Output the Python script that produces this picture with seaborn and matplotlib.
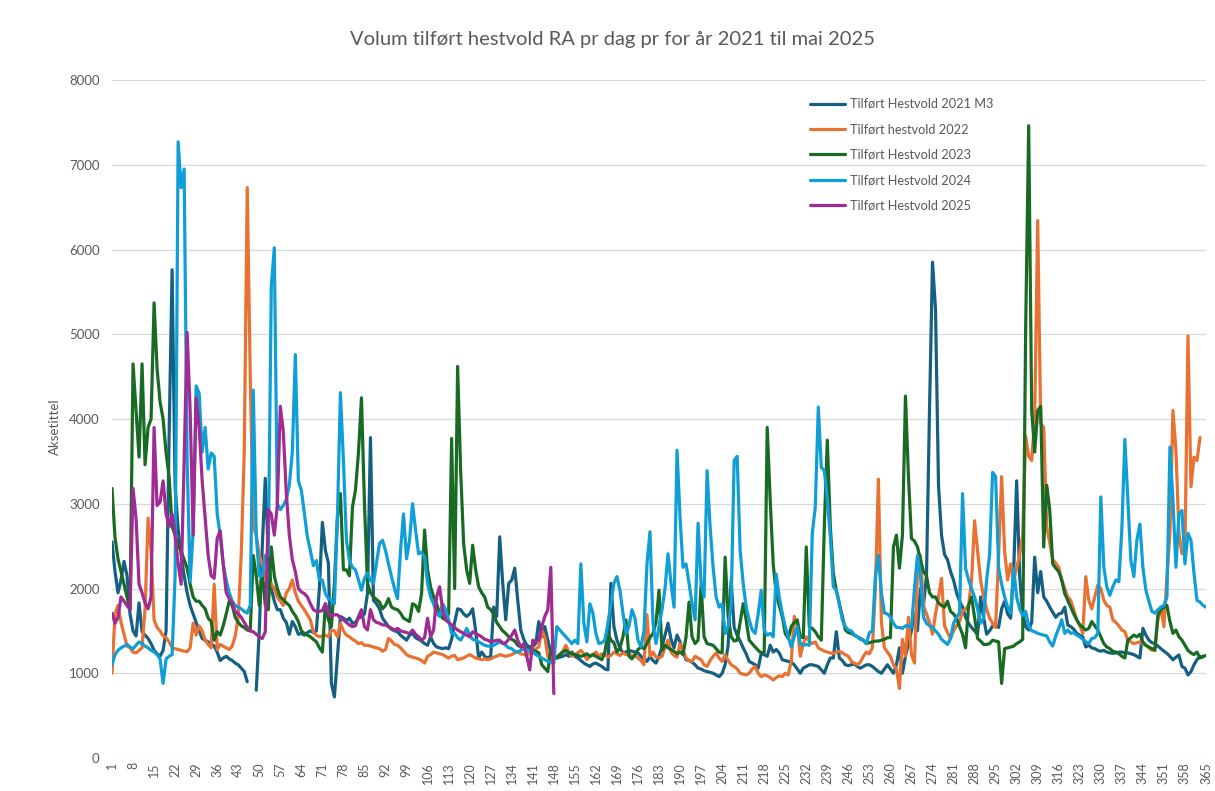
import numpy as np
import pandas as pd
import matplotlib
matplotlib.use("Agg")
import matplotlib.pyplot as plt
import seaborn as sns
from matplotlib.lines import Line2D

nan = np.nan

# daily volumes (m3), one row per week
vol_2021 = [
    2550, 2200, 1950, 2100, 2320, 2150, 1700,
    1500, 1440, 1830, 1490, 1450, 1410, 1350,
    1270, 1230, 1200, 1270, 1500, 3800, 5760,
    3200, 2700, 2400, 2150, 1950, 1800, 1700,
    1600, 1500, 1410, 1390, 1370, 1350, 1320,
    1250, 1150, 1180, 1200, 1170, 1150, 1120,
    1100, 1060, 1020, 900, nan, nan, 800,
    1500, 2500, 3300, 2400, 2000, 1850, 1750,
    1750, 1650, 1600, 1460, 1610, 1550, 1460,
    1470, 1450, 1480, 1500, 1480, 1500, 2000,
    2780, 2450, 2300, 880, 720, 1200, 1670,
    1650, 1620, 1650, 1590, 1600, 1650, 1670,
    1700, 1940, 3780, 1860, 1820, 1760, 1650,
    1600, 1550, 1520, 1500, 1490, 1450, 1420,
    1390, 1450, 1470, 1420, 1400, 1380, 1350,
    1330, 1430, 1350, 1310, 1300, 1290, 1300,
    1290, 1400, 1600, 1760, 1750, 1700, 1670,
    1700, 1760, 1500, 1180, 1250, 1200, 1180,
    1200, 1780, 1670, 2610, 2060, 1630, 2060,
    2100, 2240, 1860, 1510, 1400, 1330, 1310,
    1320, 1350, 1610, 1430, 1550, 1390, 1250,
    1200, 1180, 1190, 1200, 1220, 1200, 1250,
    1200, 1180, 1150, 1120, 1100, 1080, 1110,
    1120, 1100, 1080, 1050, 1040, 2060, 1550,
    1390, 1300, 1240, 1250, 1270, 1260, 1250,
    1240, 1200, 1170, 1140, 1200, 1150, 1120,
    1200, 1310, 1450, 1590, 1400, 1300, 1450,
    1370, 1250, 1160, 1150, 1130, 1100, 1060,
    1050, 1030, 1020, 1010, 1000, 980, 960,
    1000, 1100, 1330, 2100, 1540, 1450, 1380,
    1300, 1230, 1140, 1120, 1100, 1060, 1230,
    1220, 1200, 1330, 1250, 1280, 1240, 1160,
    1150, 1140, 1130, 1100, 1050, 1000, 1060,
    1080, 1100, 1100, 1090, 1080, 1040, 1000,
    1100, 1180, 1180, 1490, 1180, 1150, 1100,
    1090, 1100, 1110, 1080, 1060, 1080, 1100,
    1100, 1080, 1050, 1020, 1000, 1050, 1100,
    1050, 1000, 1100, 1300, 1000, 1200, 1350,
    1500, 1700, 1500, 2000, 1800, 2150, 4100,
    5850, 5300, 3220, 2630, 2400, 2340, 2200,
    2100, 1950, 1850, 1780, 1660, 1590, 1540,
    1500, 1460, 1900, 1660, 1460, 1500, 1560,
    1560, 1540, 1760, 1850, 1700, 1650, 2200,
    3270, 2150, 1700, 1550, 1510, 1600, 2370,
    1950, 2200, 1900, 1850, 1780, 1720, 1660,
    1700, 1710, 1780, 1570, 1550, 1520, 1470,
    1450, 1430, 1310, 1330, 1300, 1290, 1270,
    1260, 1270, 1250, 1240, 1235, 1240, 1250,
    1250, 1240, 1240, 1230, 1220, 1200, 1180,
    1530, 1450, 1390, 1360, 1350, 1320, 1290,
    1260, 1235, 1200, 1160, 1190, 1215, 1080,
    1060, 980, 1020, 1100, 1160, 1200, 1190,
    nan,
]

vol_2022 = [
    1000, 1700, 1800, 1600, 1460, 1320, 1300,
    1250, 1240, 1270, 1300, 1760, 2830, 2440,
    1630, 1540, 1500, 1440, 1420, 1370, 1300,
    1290, 1280, 1270, 1260, 1255, 1300, 1590,
    1450, 1560, 1500, 1390, 1340, 1300, 2050,
    1280, 1340, 1320, 1300, 1280, 1320, 1440,
    1660, 2400, 3600, 6730, 4500, 2730, 2630,
    2390, 2290, 2150, 2100, 2050, 2000, 1900,
    1850, 1800, 1950, 2000, 2100, 1950, 1850,
    1800, 1750, 1690, 1630, 1490, 1450, 1430,
    1440, 1450, 1430, 1510, 1500, 1430, 1590,
    1500, 1450, 1430, 1400, 1380, 1350, 1360,
    1330, 1330, 1320, 1310, 1300, 1290, 1260,
    1280, 1410, 1380, 1340, 1330, 1300, 1260,
    1220, 1200, 1190, 1180, 1170, 1150, 1120,
    1200, 1220, 1250, 1240, 1230, 1220, 1200,
    1180, 1200, 1210, 1160, 1170, 1180, 1200,
    1220, 1200, 1180, 1170, 1160, 1170, 1160,
    1170, 1190, 1200, 1220, 1210, 1200, 1210,
    1220, 1240, 1250, 1230, 1220, 1210, 1250,
    1270, 1290, 1310, 1510, 1430, 1200, 1160,
    1170, 1200, 1220, 1260, 1330, 1250, 1200,
    1220, 1240, 1270, 1230, 1160, 1200, 1220,
    1250, 1200, 1230, 1220, 1190, 1210, 1250,
    1230, 1210, 1240, 1220, 1230, 1200, 1210,
    1180, 1150, 1100, 1690, 1200, 1250, 1190,
    1180, 1200, 1300, 1390, 1250, 1210, 1190,
    1350, 1270, 1180, 1150, 1140, 1200, 1180,
    1160, 1100, 1080, 1150, 1200, 1240, 1180,
    1140, 1220, 1150, 1100, 1080, 1050, 1000,
    990, 980, 1000, 1050, 1080, 1000, 960,
    980, 970, 950, 920, 950, 970, 960,
    1000, 980, 1140, 1670, 1570, 1200, 1350,
    1430, 1380, 1350, 1370, 1300, 1280, 1260,
    1250, 1240, 1230, 1250, 1260, 1240, 1220,
    1200, 1140, 1120, 1100, 1130, 1200, 1250,
    1230, 1300, 2000, 3290, 1600, 1300, 1250,
    1200, 1100, 1050, 820, 1400, 1200, 1660,
    1220, 1120, 2200, 2390, 1800, 1700, 1600,
    1460, 1700, 1900, 2120, 1560, 1480, 1410,
    1500, 1560, 1610, 1730, 1760, 1800, 2100,
    2800, 2440, 2100, 1900, 1760, 1650, 1590,
    1540, 2400, 3320, 2440, 2100, 2290, 2100,
    2240, 2400, 2630, 3800, 3560, 3510, 4000,
    6340, 3950, 3900, 2730, 2540, 2340, 2300,
    2250, 2100, 2000, 1900, 1860, 1750, 1630,
    1570, 1470, 2140, 1860, 1760, 1900, 2040,
    2000, 1860, 1800, 1780, 1630, 1600, 1560,
    1510, 1490, 1390, 1370, 1350, 1360, 1370,
    1350, 1330, 1300, 1270, 1300, 1630, 1780,
    1550, 2140, 2650, 4100, 3630, 2650, 2410,
    2450, 4980, 3200, 3550, 3510, 3780, nan,
    nan,
]

vol_2023 = [
    3180, 2600, 2350, 2200, 2050, 1900, 1760,
    4650, 4100, 3550, 4650, 3460, 3900, 4000,
    5370, 4590, 4200, 4000, 3600, 3320, 2730,
    2630, 2500, 2440, 2340, 2240, 2050, 1900,
    1850, 1850, 1800, 1760, 1650, 1610, 1390,
    1490, 1450, 1560, 1700, 1850, 1800, 1660,
    1600, 1560, 1540, 1510, 1500, 2390, 2150,
    1800, 2200, 1800, 1750, 2490, 2150, 2000,
    1900, 1870, 1830, 1800, 1730, 1680, 1610,
    1500, 1470, 1450, 1430, 1400, 1370, 1300,
    1250, 1820, 1630, 1550, 2060, 2840, 3120,
    2220, 2220, 2150, 2960, 3160, 3600, 4250,
    3000, 2060, 1950, 1900, 1870, 1840, 1760,
    1800, 1880, 1780, 1760, 1750, 1710, 1650,
    1630, 1610, 1820, 1800, 1730, 1940, 2690,
    2220, 2020, 1900, 1820, 1710, 1650, 1630,
    1700, 3770, 2000, 4620, 3390, 2530, 2220,
    2060, 2510, 2220, 2020, 1950, 1900, 1780,
    1750, 1700, 1600, 1550, 1500, 1470, 1430,
    1400, 1380, 1330, 1310, 1300, 1290, 1280,
    1270, 1260, 1240, 1100, 1060, 1020, 1270,
    1200, 1180, 1220, 1250, 1270, 1240, 1230,
    1220, 1210, 1200, 1210, 1230, 1200, 1220,
    1200, 1180, 1160, 1250, 1470, 1390, 1360,
    1250, 1300, 1430, 1630, 1200, 1170, 1220,
    1280, 1310, 1290, 1350, 1420, 1470, 1600,
    1980, 1270, 1330, 1300, 1280, 1260, 1230,
    1250, 1220, 1430, 1840, 1430, 1350, 1390,
    2040, 1430, 1350, 1340, 1330, 1290, 1250,
    1240, 2370, 1670, 1430, 1380, 1390, 1600,
    1820, 1630, 1390, 1350, 1310, 1270, 1240,
    1250, 3900, 3040, 2290, 1940, 1800, 1670,
    1470, 1410, 1550, 1600, 1630, 1430, 1420,
    2490, 1550, 1530, 1490, 1430, 1390, 2730,
    3750, 2730, 2180, 1980, 1820, 1670, 1510,
    1480, 1470, 1450, 1430, 1410, 1390, 1350,
    1360, 1370, 1380, 1380, 1390, 1400, 1420,
    1420, 2490, 2630, 2240, 2630, 4270, 3320,
    2590, 2560, 2490, 2340, 2200, 2150, 1950,
    1900, 1900, 1830, 1800, 1780, 1850, 1730,
    1700, 1650, 1550, 1460, 1300, 1800, 1900,
    1660, 1410, 1380, 1340, 1340, 1350, 1390,
    1380, 1370, 880, 1290, 1300, 1310, 1320,
    1350, 1370, 1400, 5070, 7460, 4100, 3610,
    4100, 4150, 2490, 3220, 2930, 2290, 2240,
    2200, 2100, 1940, 1860, 1780, 1700, 1630,
    1570, 1540, 1510, 1530, 1610, 1560, 1510,
    1430, 1350, 1310, 1290, 1260, 1250, 1230,
    1200, 1180, 1390, 1420, 1450, 1430, 1460,
    1370, 1330, 1310, 1290, 1270, 1690, 1750,
    1780, 1800, 1610, 1470, 1510, 1430, 1390,
    1330, 1270, 1240, 1220, 1250, 1180, 1200,
    1210,
]

vol_2024 = [
    1100, 1220, 1270, 1300, 1320, 1340, 1310,
    1290, 1330, 1370, 1350, 1320, 1300, 1270,
    1250, 1220, 1170, 880, 1170, 1200, 1220,
    2150, 7270, 6730, 6950, 3500, 2080, 2680,
    4390, 4300, 3610, 3900, 3410, 3600, 3560,
    2880, 2630, 2290, 2100, 1950, 1850, 1800,
    1780, 1760, 1730, 1710, 1800, 4340, 2630,
    2150, 2150, 2390, 2390, 5560, 6020, 3000,
    2930, 2980, 3050, 3220, 3610, 4760, 3270,
    3160, 2880, 2610, 2450, 2270, 2330, 2100,
    2100, 1940, 1880, 1860, 1820, 2840, 4310,
    3510, 2570, 2330, 2250, 2220, 2100, 1980,
    2120, 2180, 2100, 2060, 2300, 2530, 2570,
    2450, 2290, 2140, 2000, 1880, 2450, 2880,
    2350, 2570, 3000, 2690, 2410, 2430, 2370,
    2060, 1900, 1820, 1710, 1670, 1820, 1750,
    1630, 1470, 1470, 1420, 1390, 1450, 1530,
    1450, 1400, 1390, 1370, 1350, 1330, 1320,
    1320, 1330, 1350, 1370, 1360, 1330, 1300,
    1290, 1260, 1250, 1270, 1290, 1280, 1260,
    1250, 1220, 1200, 1180, 1160, 1140, 1130,
    1120, 1550, 1510, 1470, 1430, 1390, 1350,
    1390, 1350, 2290, 1590, 1370, 1820, 1710,
    1470, 1350, 1360, 1390, 1590, 1820, 2060,
    2140, 1980, 1710, 1470, 1550, 1750, 1650,
    1390, 1310, 1500, 2290, 2670, 1590, 1350,
    1550, 1750, 2000, 2410, 2060, 1780, 3630,
    2840, 2250, 2290, 2060, 1820, 1630, 2770,
    2060, 1900, 3390, 2730, 2250, 1900, 1780,
    1820, 1470, 1550, 1800, 3510, 3560, 2450,
    2060, 1780, 1630, 1510, 1470, 1700, 1980,
    1510, 1450, 1470, 1430, 2170, 1900, 1710,
    1550, 1430, 1310, 1430, 1550, 1350, 1330,
    1340, 1330, 2650, 2960, 4140, 3430, 3390,
    3060, 2610, 2020, 1980, 1820, 1630, 1550,
    1510, 1500, 1450, 1430, 1400, 1390, 1350,
    1480, 1500, 2150, 2390, 1950, 1710, 1700,
    1660, 1590, 1540, 1540, 1530, 1560, 1560,
    1540, 2000, 2390, 2150, 1660, 1590, 1560,
    1540, 1500, 1460, 1400, 1370, 1340, 1410,
    1590, 1660, 1710, 3120, 2240, 2100, 2000,
    1900, 1760, 1590, 1650, 2100, 2400, 3370,
    3320, 2240, 2050, 1900, 1780, 1710, 2240,
    1900, 1760, 1680, 1730, 1560, 1500, 1490,
    1470, 1460, 1450, 1440, 1370, 1320, 1440,
    1530, 1630, 1470, 1510, 1470, 1480, 1450,
    1430, 1400, 1370, 1350, 1410, 1420, 1470,
    3080, 2250, 2020, 1920, 2020, 2100, 2080,
    2700, 3760, 3040, 2330, 2140, 2570, 2760,
    2250, 1980, 1850, 1730, 1710, 1750, 1780,
    1800, 1900, 3670, 3040, 2250, 2880, 2920,
    2290, 2650, 2570, 2180, 1860, 1840, 1800,
    1780,
]

vol_2025 = [
    1710, 1590, 1660, 1900, 1850, 1800, 1750,
    3180, 2830, 2050, 1950, 1830, 1760, 1900,
    3900, 2980, 3020, 3270, 2880, 2730, 2880,
    2630, 2300, 2050, 3500, 5020, 4100, 2630,
    4250, 3900, 3270, 2830, 2390, 2150, 2120,
    2590, 2680, 2290, 1950, 1880, 1830, 1730,
    1700, 1660, 1600, 1540, 1500, 1490, 1460,
    1430, 1410, 1490, 2930, 2880, 2630, 2980,
    4150, 3850, 3120, 2630, 2340, 2200, 2000,
    1960, 1940, 1900, 1820, 1750, 1730, 1730,
    1740, 1820, 1710, 1670, 1690, 1690, 1650,
    1630, 1600, 1570, 1550, 1560, 1670, 1750,
    1550, 1510, 1750, 1630, 1600, 1590, 1570,
    1570, 1550, 1530, 1510, 1530, 1500, 1490,
    1480, 1470, 1510, 1460, 1430, 1390, 1420,
    1650, 1430, 1510, 1900, 2020, 1750, 1630,
    1600, 1570, 1540, 1510, 1490, 1470, 1450,
    1430, 1490, 1470, 1450, 1430, 1400, 1390,
    1370, 1380, 1390, 1390, 1350, 1360, 1400,
    1450, 1510, 1390, 1310, 1350, 1200, 1040,
    1390, 1370, 1390, 1550, 1670, 1750, 2250,
    760,
]

series_names = [
    "Tilført Hestvold 2021 M3",
    "Tilført hestvold 2022",
    "Tilført Hestvold 2023",
    "Tilført Hestvold 2024",
    "Tilført Hestvold 2025",
]
series_values = [vol_2021, vol_2022, vol_2023, vol_2024, vol_2025]
colours = ["#156082", "#E97132", "#196B24", "#0F9ED5", "#A02B93"]

x_ticks = list(range(1, 366, 7))
y_ticks = list(range(0, 8001, 1000))

# long table, with a segment id so gaps in the data stay gaps
frames = []
seg = 0
for name, vals in zip(series_names, series_values):
    v = pd.Series(vals, dtype=float)
    seg_id = v.isna().cumsum() + seg
    seg = int(seg_id.max()) + 1
    frames.append(pd.DataFrame({"day": np.arange(1, len(v) + 1), "value": v,
                                "series": name, "seg": seg_id}))
df = pd.concat(frames).dropna()

sns.set_theme(style="white")
plt.rcParams["font.family"] = ["Lato", "DejaVu Sans"]
grey = "#595959"

fig = plt.figure(figsize=(12.15, 7.91), dpi=100)
ax = fig.add_axes([112 / 1215, 1 - 758 / 791, (1206 - 112) / 1215, (758 - 80) / 791])

sns.lineplot(data=df, x="day", y="value", hue="series", units="seg", estimator=None,
             palette=dict(zip(series_names, colours)), hue_order=series_names,
             linewidth=2.3, legend=False, ax=ax)
for ln in ax.get_lines():
    ln.set_solid_joinstyle("round")

ax.set_xlim(1, 365)
ax.set_ylim(0, 8000)
ax.set_xticks(x_ticks)
ax.set_xticklabels([str(t) for t in x_ticks], rotation=90, fontsize=9, color=grey)
ax.set_yticks(y_ticks)
ax.set_yticklabels([str(t) for t in y_ticks], fontsize=9.5, color=grey)
ax.tick_params(axis="x", length=0, pad=3)
ax.tick_params(axis="y", length=0, pad=9)
ax.grid(axis="y", color="#D9D9D9", linewidth=0.9)
ax.grid(axis="x", visible=False)
for s in ax.spines.values():
    s.set_visible(False)
ax.set_axisbelow(True)

ax.set_xlabel("")
ax.set_ylabel("Aksetittel", fontsize=9.5, color=grey)
ax.yaxis.set_label_coords(-0.047, 0.488)

fig.text(613 / 1215, 1 - 40 / 791, "Volum tilført hestvold RA pr dag pr for år 2021 til mai 2025",
         ha="center", va="center", fontsize=14.5, color=grey)

handles = [Line2D([], [], color=c, linewidth=2.3) for c in colours]
fig.legend(handles, series_names, loc="upper left", bbox_to_anchor=(810 / 1215, 1 - 98 / 791),
           frameon=False, fontsize=9.2, labelcolor=grey, handlelength=2.7, handletextpad=0.4,
           labelspacing=1.05, borderpad=0, borderaxespad=0)

fig.savefig("out.png", dpi=100)
